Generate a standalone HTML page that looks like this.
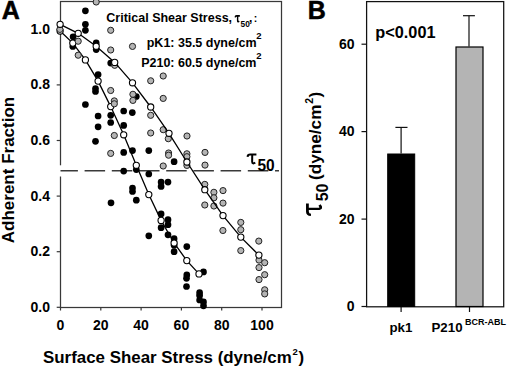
<!DOCTYPE html>
<html><head><meta charset="utf-8"><style>
html,body{margin:0;padding:0;background:#fff;}
svg{display:block;}
text{font-family:"Liberation Sans",sans-serif;font-weight:bold;fill:#000;}
</style></head><body>
<svg width="520" height="369" viewBox="0 0 520 369">
<text x="1.7" y="19" font-size="25" stroke="#000" stroke-width="0.5">A</text>
<rect x="60.5" y="1.5" width="221" height="306" fill="none" stroke="#383838" stroke-width="1.25"/>
<line x1="56.7" y1="307.3" x2="60.5" y2="307.3" stroke="#383838" stroke-width="1.2"/>
<text x="50" y="311.8" font-size="14" text-anchor="end">0.0</text>
<line x1="56.7" y1="251.7" x2="60.5" y2="251.7" stroke="#383838" stroke-width="1.2"/>
<text x="50" y="256.2" font-size="14" text-anchor="end">0.2</text>
<line x1="56.7" y1="196.1" x2="60.5" y2="196.1" stroke="#383838" stroke-width="1.2"/>
<text x="50" y="200.6" font-size="14" text-anchor="end">0.4</text>
<line x1="56.7" y1="140.5" x2="60.5" y2="140.5" stroke="#383838" stroke-width="1.2"/>
<text x="50" y="145.0" font-size="14" text-anchor="end">0.6</text>
<line x1="56.7" y1="84.9" x2="60.5" y2="84.9" stroke="#383838" stroke-width="1.2"/>
<text x="50" y="89.4" font-size="14" text-anchor="end">0.8</text>
<line x1="56.7" y1="29.3" x2="60.5" y2="29.3" stroke="#383838" stroke-width="1.2"/>
<text x="50" y="33.8" font-size="14" text-anchor="end">1.0</text>
<line x1="60.5" y1="307.5" x2="60.5" y2="310.5" stroke="#383838" stroke-width="1.2"/>
<text x="60.5" y="329.9" font-size="14" text-anchor="middle">0</text>
<line x1="100.8" y1="307.5" x2="100.8" y2="310.5" stroke="#383838" stroke-width="1.2"/>
<text x="100.8" y="329.9" font-size="14" text-anchor="middle">20</text>
<line x1="141.1" y1="307.5" x2="141.1" y2="310.5" stroke="#383838" stroke-width="1.2"/>
<text x="141.1" y="329.9" font-size="14" text-anchor="middle">40</text>
<line x1="181.4" y1="307.5" x2="181.4" y2="310.5" stroke="#383838" stroke-width="1.2"/>
<text x="181.4" y="329.9" font-size="14" text-anchor="middle">60</text>
<line x1="221.7" y1="307.5" x2="221.7" y2="310.5" stroke="#383838" stroke-width="1.2"/>
<text x="221.7" y="329.9" font-size="14" text-anchor="middle">80</text>
<line x1="262.0" y1="307.5" x2="262.0" y2="310.5" stroke="#383838" stroke-width="1.2"/>
<text x="262.0" y="329.9" font-size="14" text-anchor="middle">100</text>
<rect x="58" y="165.3" width="5" height="11.2" fill="#fff"/><line x1="60.5" y1="170.8" x2="279" y2="170.8" stroke="#3a3a3a" stroke-width="1.6" stroke-dasharray="20.5 6.7" stroke-dashoffset="3.1"/>
<circle cx="85.4" cy="10.8" r="3.35" fill="#000"/>
<circle cx="85.4" cy="24.3" r="3.35" fill="#000"/>
<circle cx="85.4" cy="30.3" r="3.35" fill="#000"/>
<circle cx="73.1" cy="36.8" r="3.35" fill="#000"/>
<circle cx="72.8" cy="46.5" r="3.35" fill="#000"/>
<circle cx="96.2" cy="42.9" r="3.35" fill="#000"/>
<circle cx="96.2" cy="49.6" r="3.35" fill="#000"/>
<circle cx="110.7" cy="63.1" r="3.35" fill="#000"/>
<circle cx="98.1" cy="74.6" r="3.35" fill="#000"/>
<circle cx="95.5" cy="88.5" r="3.35" fill="#000"/>
<circle cx="95.5" cy="91.5" r="3.35" fill="#000"/>
<circle cx="85.4" cy="104.5" r="3.35" fill="#000"/>
<circle cx="123.7" cy="111" r="3.35" fill="#000"/>
<circle cx="132.3" cy="112.6" r="3.35" fill="#000"/>
<circle cx="98.1" cy="116" r="3.35" fill="#000"/>
<circle cx="110.7" cy="115.3" r="3.35" fill="#000"/>
<circle cx="110.7" cy="122.5" r="3.35" fill="#000"/>
<circle cx="98.1" cy="126.8" r="3.35" fill="#000"/>
<circle cx="123.7" cy="125.4" r="3.35" fill="#000"/>
<circle cx="95.5" cy="141.3" r="3.35" fill="#000"/>
<circle cx="123.7" cy="152.4" r="3.35" fill="#000"/>
<circle cx="132.5" cy="150.6" r="3.35" fill="#000"/>
<circle cx="148.8" cy="150.6" r="3.35" fill="#000"/>
<circle cx="123.7" cy="171.1" r="3.35" fill="#000"/>
<circle cx="136.3" cy="169.6" r="3.35" fill="#000"/>
<circle cx="174.1" cy="161.7" r="3.35" fill="#000"/>
<circle cx="148.8" cy="174" r="3.35" fill="#000"/>
<circle cx="161.1" cy="182.1" r="3.35" fill="#000"/>
<circle cx="168" cy="182.1" r="3.35" fill="#000"/>
<circle cx="161.1" cy="186.4" r="3.35" fill="#000"/>
<circle cx="132.5" cy="188" r="3.35" fill="#000"/>
<circle cx="132.5" cy="191.5" r="3.35" fill="#000"/>
<circle cx="111" cy="202.8" r="3.35" fill="#000"/>
<circle cx="136.3" cy="200.2" r="3.35" fill="#000"/>
<circle cx="161.1" cy="213.9" r="3.35" fill="#000"/>
<circle cx="168" cy="219.7" r="3.35" fill="#000"/>
<circle cx="168" cy="224.7" r="3.35" fill="#000"/>
<circle cx="161.1" cy="227.7" r="3.35" fill="#000"/>
<circle cx="168" cy="234.8" r="3.35" fill="#000"/>
<circle cx="148.8" cy="235.8" r="3.35" fill="#000"/>
<circle cx="174.1" cy="238.7" r="3.35" fill="#000"/>
<circle cx="174.1" cy="245.2" r="3.35" fill="#000"/>
<circle cx="174.1" cy="251.7" r="3.35" fill="#000"/>
<circle cx="186.8" cy="246.6" r="3.35" fill="#000"/>
<circle cx="186.8" cy="274.9" r="3.35" fill="#000"/>
<circle cx="186.5" cy="278.3" r="3.35" fill="#000"/>
<circle cx="186.5" cy="286.5" r="3.35" fill="#000"/>
<circle cx="203.5" cy="271.9" r="3.35" fill="#000"/>
<circle cx="199.6" cy="292.7" r="3.35" fill="#000"/>
<circle cx="199.6" cy="295.6" r="3.35" fill="#000"/>
<circle cx="199.6" cy="300" r="3.35" fill="#000"/>
<circle cx="203.5" cy="301.9" r="3.35" fill="#000"/>
<circle cx="203.5" cy="305.8" r="3.35" fill="#000"/>
<circle cx="136.3" cy="96.5" r="3.35" fill="#000"/>
<polyline fill="none" stroke="#000" stroke-width="1.3" points="60.1,31 72.8,43.1 85.4,59.9 98.1,81.1 110.7,106.6 123.7,134.8 136.3,165.3 148.8,194.6 161.1,220.4 174.1,243 186.8,260.6 199,273.9"/>
<circle cx="60.1" cy="31" r="3.1" fill="#fff" stroke="#000" stroke-width="1.1"/>
<circle cx="72.8" cy="43.1" r="3.1" fill="#fff" stroke="#000" stroke-width="1.1"/>
<circle cx="85.4" cy="59.9" r="3.1" fill="#fff" stroke="#000" stroke-width="1.1"/>
<circle cx="98.1" cy="81.1" r="3.1" fill="#fff" stroke="#000" stroke-width="1.1"/>
<circle cx="110.7" cy="106.6" r="3.1" fill="#fff" stroke="#000" stroke-width="1.1"/>
<circle cx="123.7" cy="134.8" r="3.1" fill="#fff" stroke="#000" stroke-width="1.1"/>
<circle cx="136.3" cy="165.3" r="3.1" fill="#fff" stroke="#000" stroke-width="1.1"/>
<circle cx="148.8" cy="194.6" r="3.1" fill="#fff" stroke="#000" stroke-width="1.1"/>
<circle cx="161.1" cy="220.4" r="3.1" fill="#fff" stroke="#000" stroke-width="1.1"/>
<circle cx="174.1" cy="243" r="3.1" fill="#fff" stroke="#000" stroke-width="1.1"/>
<circle cx="186.8" cy="260.6" r="3.1" fill="#fff" stroke="#000" stroke-width="1.1"/>
<circle cx="199" cy="273.9" r="3.1" fill="#fff" stroke="#000" stroke-width="1.1"/>
<circle cx="96.2" cy="2" r="3.1" fill="#b4b4b4" stroke="#222" stroke-width="1.0"/>
<circle cx="110.7" cy="30.3" r="3.1" fill="#b4b4b4" stroke="#222" stroke-width="1.0"/>
<circle cx="59.9" cy="29.4" r="3.1" fill="#b4b4b4" stroke="#222" stroke-width="1.0"/>
<circle cx="78.2" cy="41.2" r="3.1" fill="#b4b4b4" stroke="#222" stroke-width="1.0"/>
<circle cx="132.5" cy="46.4" r="3.1" fill="#b4b4b4" stroke="#222" stroke-width="1.0"/>
<circle cx="110.7" cy="50" r="3.1" fill="#b4b4b4" stroke="#222" stroke-width="1.0"/>
<circle cx="78.2" cy="55.2" r="3.1" fill="#b4b4b4" stroke="#222" stroke-width="1.0"/>
<circle cx="114.7" cy="65.3" r="3.1" fill="#b4b4b4" stroke="#222" stroke-width="1.0"/>
<circle cx="163.2" cy="76" r="3.1" fill="#b4b4b4" stroke="#222" stroke-width="1.0"/>
<circle cx="150.7" cy="80.8" r="3.1" fill="#b4b4b4" stroke="#222" stroke-width="1.0"/>
<circle cx="110.7" cy="90.5" r="3.1" fill="#b4b4b4" stroke="#222" stroke-width="1.0"/>
<circle cx="132.9" cy="94.3" r="3.1" fill="#b4b4b4" stroke="#222" stroke-width="1.0"/>
<circle cx="132.9" cy="100.4" r="3.1" fill="#b4b4b4" stroke="#222" stroke-width="1.0"/>
<circle cx="163.2" cy="98.4" r="3.1" fill="#b4b4b4" stroke="#222" stroke-width="1.0"/>
<circle cx="114.3" cy="100.9" r="3.1" fill="#b4b4b4" stroke="#222" stroke-width="1.0"/>
<circle cx="114.3" cy="103.8" r="3.1" fill="#b4b4b4" stroke="#222" stroke-width="1.0"/>
<circle cx="150.7" cy="115.3" r="3.1" fill="#b4b4b4" stroke="#222" stroke-width="1.0"/>
<circle cx="163.2" cy="129.7" r="3.1" fill="#b4b4b4" stroke="#222" stroke-width="1.0"/>
<circle cx="150.7" cy="133" r="3.1" fill="#b4b4b4" stroke="#222" stroke-width="1.0"/>
<circle cx="114.3" cy="135.5" r="3.1" fill="#b4b4b4" stroke="#222" stroke-width="1.0"/>
<circle cx="168.3" cy="138.7" r="3.1" fill="#b4b4b4" stroke="#222" stroke-width="1.0"/>
<circle cx="187" cy="136" r="3.1" fill="#b4b4b4" stroke="#222" stroke-width="1.0"/>
<circle cx="110.7" cy="153.4" r="3.1" fill="#b4b4b4" stroke="#222" stroke-width="1.0"/>
<circle cx="168.6" cy="153" r="3.1" fill="#b4b4b4" stroke="#222" stroke-width="1.0"/>
<circle cx="168.6" cy="155.2" r="3.1" fill="#b4b4b4" stroke="#222" stroke-width="1.0"/>
<circle cx="163.2" cy="166" r="3.1" fill="#b4b4b4" stroke="#222" stroke-width="1.0"/>
<circle cx="186.9" cy="153.8" r="3.1" fill="#b4b4b4" stroke="#222" stroke-width="1.0"/>
<circle cx="186.9" cy="156.7" r="3.1" fill="#b4b4b4" stroke="#222" stroke-width="1.0"/>
<circle cx="186.9" cy="165.4" r="3.1" fill="#b4b4b4" stroke="#222" stroke-width="1.0"/>
<circle cx="205" cy="152.4" r="3.1" fill="#b4b4b4" stroke="#222" stroke-width="1.0"/>
<circle cx="205" cy="165.1" r="3.1" fill="#b4b4b4" stroke="#222" stroke-width="1.0"/>
<circle cx="204.8" cy="184.4" r="3.1" fill="#b4b4b4" stroke="#222" stroke-width="1.0"/>
<circle cx="204.8" cy="205" r="3.1" fill="#b4b4b4" stroke="#222" stroke-width="1.0"/>
<circle cx="213.9" cy="192.3" r="3.1" fill="#b4b4b4" stroke="#222" stroke-width="1.0"/>
<circle cx="213.9" cy="197.8" r="3.1" fill="#b4b4b4" stroke="#222" stroke-width="1.0"/>
<circle cx="213.9" cy="206" r="3.1" fill="#b4b4b4" stroke="#222" stroke-width="1.0"/>
<circle cx="223" cy="190.6" r="3.1" fill="#b4b4b4" stroke="#222" stroke-width="1.0"/>
<circle cx="223" cy="203.1" r="3.1" fill="#b4b4b4" stroke="#222" stroke-width="1.0"/>
<circle cx="222.9" cy="230.5" r="3.1" fill="#b4b4b4" stroke="#222" stroke-width="1.0"/>
<circle cx="240.8" cy="222.4" r="3.1" fill="#b4b4b4" stroke="#222" stroke-width="1.0"/>
<circle cx="240.8" cy="229.7" r="3.1" fill="#b4b4b4" stroke="#222" stroke-width="1.0"/>
<circle cx="240.8" cy="250.6" r="3.1" fill="#b4b4b4" stroke="#222" stroke-width="1.0"/>
<circle cx="258.8" cy="241.1" r="3.1" fill="#b4b4b4" stroke="#222" stroke-width="1.0"/>
<circle cx="259" cy="260.1" r="3.1" fill="#b4b4b4" stroke="#222" stroke-width="1.0"/>
<circle cx="264.7" cy="262.7" r="3.1" fill="#b4b4b4" stroke="#222" stroke-width="1.0"/>
<circle cx="259" cy="267.6" r="3.1" fill="#b4b4b4" stroke="#222" stroke-width="1.0"/>
<circle cx="264.7" cy="274.7" r="3.1" fill="#b4b4b4" stroke="#222" stroke-width="1.0"/>
<circle cx="259" cy="279.6" r="3.1" fill="#b4b4b4" stroke="#222" stroke-width="1.0"/>
<circle cx="264.7" cy="289.8" r="3.1" fill="#b4b4b4" stroke="#222" stroke-width="1.0"/>
<circle cx="264.7" cy="293.9" r="3.1" fill="#b4b4b4" stroke="#222" stroke-width="1.0"/>
<polyline fill="none" stroke="#000" stroke-width="1.3" points="60.1,24.3 78.2,33.3 96.2,46.2 114.7,62.4 132.5,82.8 150.7,107 169,133.3 186.9,162 204.8,189.7 223,215.6 240.8,237.1 258.9,255.1"/>
<circle cx="60.1" cy="24.3" r="3.1" fill="#fff" stroke="#000" stroke-width="1.1"/>
<circle cx="78.2" cy="33.3" r="3.1" fill="#fff" stroke="#000" stroke-width="1.1"/>
<circle cx="96.2" cy="46.2" r="3.1" fill="#fff" stroke="#000" stroke-width="1.1"/>
<circle cx="114.7" cy="62.4" r="3.1" fill="#fff" stroke="#000" stroke-width="1.1"/>
<circle cx="132.5" cy="82.8" r="3.1" fill="#fff" stroke="#000" stroke-width="1.1"/>
<circle cx="150.7" cy="107" r="3.1" fill="#fff" stroke="#000" stroke-width="1.1"/>
<circle cx="169" cy="133.3" r="3.1" fill="#fff" stroke="#000" stroke-width="1.1"/>
<circle cx="186.9" cy="162" r="3.1" fill="#fff" stroke="#000" stroke-width="1.1"/>
<circle cx="204.8" cy="189.7" r="3.1" fill="#fff" stroke="#000" stroke-width="1.1"/>
<circle cx="223" cy="215.6" r="3.1" fill="#fff" stroke="#000" stroke-width="1.1"/>
<circle cx="240.8" cy="237.1" r="3.1" fill="#fff" stroke="#000" stroke-width="1.1"/>
<circle cx="258.9" cy="255.1" r="3.1" fill="#fff" stroke="#000" stroke-width="1.1"/>
<text x="106.3" y="22.3" font-size="12.5">Critical Shear Stress,</text>
<path d="M0.4,3.3 C0.5,1.3 1.7,0.9 3.2,0.9 L9.7,0.9 M5.3,1 L5.2,8.0 C5.2,10.3 6.7,10.5 8.4,9.1" transform="translate(235,15.3) scale(0.5,0.64)" fill="none" stroke="#000" stroke-width="2.8"/>
<text x="240.5" y="27.4" font-size="8.4">50</text>
<text x="248.9" y="22.4" font-size="12">,</text><text x="253.8" y="21.8" font-size="10.5">:</text>
<text x="256.5" y="46.8" font-size="12.5" text-anchor="end">pK1: 35.5 dyne/cm</text><text x="256.3" y="39.2" font-size="9.5">2</text>
<text x="256.5" y="66.6" font-size="12.5" text-anchor="end">P210: 60.5 dyne/cm</text><text x="256.3" y="59.2" font-size="9.5">2</text>
<path d="M0.4,3.3 C0.5,1.3 1.7,0.9 3.2,0.9 L9.7,0.9 M5.3,1 L5.2,8.0 C5.2,10.3 6.7,10.5 8.4,9.1" transform="translate(247.2,153.6) scale(0.95,0.98)" fill="none" stroke="#000" stroke-width="2.1"/>
<text transform="translate(257.4,170.9) scale(0.94,1)" font-size="16.5">50</text>
<text x="43" y="362.5" font-size="16.9">Surface Shear Stress (dyne/cm<tspan font-size="9.5" dy="-7.3" dx="0.8">2</tspan><tspan dy="7.3" dx="0.6">)</tspan></text>
<text transform="translate(14.2,170) rotate(-90)" font-size="17" text-anchor="middle">Adherent Fraction</text>
<text x="307.8" y="19.1" font-size="25" stroke="#000" stroke-width="0.5">B</text>
<rect x="366.6" y="1.6" width="137.1" height="305.2" fill="none" stroke="#111" stroke-width="1.25"/>
<line x1="361.5" y1="306.5" x2="366.5" y2="306.5" stroke="#111" stroke-width="1.2"/>
<text x="354.5" y="311.3" font-size="14" text-anchor="end">0</text>
<line x1="361.5" y1="219.1" x2="366.5" y2="219.1" stroke="#111" stroke-width="1.2"/>
<text x="354.5" y="223.9" font-size="14" text-anchor="end">20</text>
<line x1="361.5" y1="131.6" x2="366.5" y2="131.6" stroke="#111" stroke-width="1.2"/>
<text x="354.5" y="136.4" font-size="14" text-anchor="end">40</text>
<line x1="361.5" y1="44.2" x2="366.5" y2="44.2" stroke="#111" stroke-width="1.2"/>
<text x="354.5" y="49.0" font-size="14" text-anchor="end">60</text>
<line x1="401.1" y1="306.5" x2="401.1" y2="312" stroke="#111" stroke-width="1.2"/>
<line x1="469.5" y1="306.5" x2="469.5" y2="312" stroke="#111" stroke-width="1.2"/>
<line x1="401.1" y1="153.6" x2="401.1" y2="127.4" stroke="#111" stroke-width="1.2"/><line x1="395.4" y1="127.4" x2="407.5" y2="127.4" stroke="#111" stroke-width="1.2"/>
<line x1="469" y1="46.6" x2="469" y2="15.7" stroke="#111" stroke-width="1.2"/><line x1="463" y1="15.7" x2="474.9" y2="15.7" stroke="#111" stroke-width="1.2"/>
<rect x="387.7" y="154" width="27" height="152.5" fill="#000" stroke="#000" stroke-width="1"/>
<rect x="456" y="47" width="27" height="259.5" fill="#b4b4b4" stroke="#000" stroke-width="1.2"/>
<text x="375.3" y="37.5" font-size="16.3">p&lt;0.001</text>
<text x="389.5" y="332.2" font-size="13.3">pk1</text>
<text x="431.5" y="332.2" font-size="13.3">P210<tspan font-size="9" dy="-7.2" dx="2.5">BCR-ABL</tspan></text>
<path d="M0.4,3.3 C0.5,1.3 1.7,0.9 3.2,0.9 L9.7,0.9 M5.3,1 L5.2,8.0 C5.2,10.3 6.7,10.5 8.4,9.1" transform="translate(306.1,215.3) rotate(-90) scale(1.22,1.47)" fill="none" stroke="#000" stroke-width="1.9"/>
<text transform="translate(328,201.3) rotate(-90)" font-size="16">50</text>
<text transform="translate(321.3,180) rotate(-90)" font-size="17.2">(dyne/cm<tspan font-size="10.5" dy="-8" dx="0.8">2</tspan><tspan dy="8" dx="0.5">)</tspan></text>
</svg>
</body></html>
